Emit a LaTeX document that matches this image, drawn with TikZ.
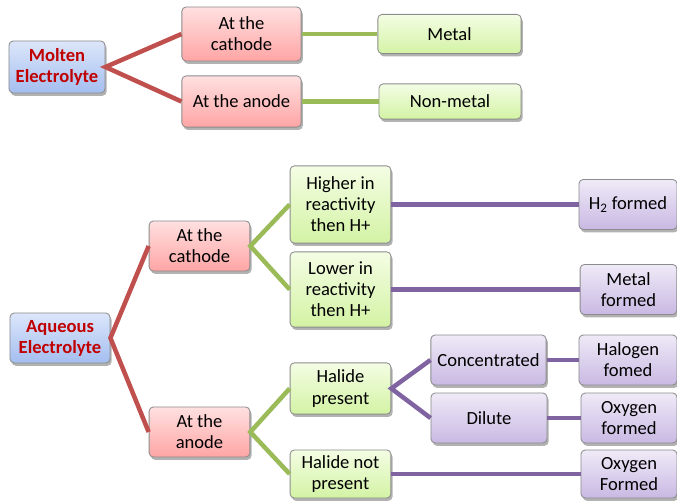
\documentclass[tikz,border=0pt]{standalone}
\usepackage{fontspec}
\setmainfont{Carlito}
\usepackage{tikz}
\usetikzlibrary{shadows}

\definecolor{lnred}{HTML}{C0504D}
\definecolor{lngreen}{HTML}{9BBB59}
\definecolor{lnpurple}{HTML}{8064A2}
\definecolor{txtred}{HTML}{C00000}
\definecolor{bluetop}{HTML}{DCE6FA}
\definecolor{bluebot}{HTML}{A4BEF0}
\definecolor{redtop}{HTML}{FFE0E0}
\definecolor{redbot}{HTML}{FFA5A5}
\definecolor{greentop}{HTML}{F4FDE4}
\definecolor{greenbot}{HTML}{D3F3A4}
\definecolor{purpletop}{HTML}{EFEAF7}
\definecolor{purplebot}{HTML}{C9B9E3}

\tikzstyle{box} = [draw=black!45, line width=0.6pt, rounded corners=3pt, align=center,
  font=\fontsize{13.2}{15}\selectfont, inner sep=2pt,
  drop shadow={shadow xshift=1.2pt, shadow yshift=-2pt, opacity=0.3, fill=black}]
\tikzstyle{bluebox} = [box, top color=bluetop, bottom color=bluebot, font=\fontsize{13.2}{15}\selectfont\bfseries, text=txtred]
\tikzstyle{redbox} = [box, top color=redtop, bottom color=redbot]
\tikzstyle{greenbox} = [box, top color=greentop, bottom color=greenbot]
\tikzstyle{purplebox} = [box, top color=purpletop, bottom color=purplebot]
\tikzstyle{redline} = [line width=3.2pt, lnred]
\tikzstyle{greenline} = [line width=3.2pt, lngreen]
\tikzstyle{purpleline} = [line width=3.2pt, lnpurple]

\begin{document}
\begin{tikzpicture}[x=0.025cm, y=-0.025cm]
\useasboundingbox (0,0) rectangle (677,500);

% molten
\node (molten) [bluebox, minimum width=2.4cm, minimum height=1.3cm] at (57,67) {Molten\\Electrolyte};
\node (mcathode) [redbox, minimum width=2.98cm, minimum height=1.35cm] at (241.5,34) {At the\\cathode};
\node (manode) [redbox, minimum width=2.98cm, minimum height=1.28cm] at (241.5,101.5) {At the anode};
\node (metal) [greenbox, minimum width=3.58cm, minimum height=0.98cm] at (449.5,34) {Metal};
\node (nonmetal) [greenbox, minimum width=3.55cm, minimum height=0.88cm] at (450,101.5) {Non-metal};

% aqueous
\node (aqueous) [bluebox, minimum width=2.5cm, minimum height=1.25cm] at (60,338) {Aqueous\\Electrolyte};
\node (acathode) [redbox, minimum width=2.52cm, minimum height=1.25cm] at (199.5,246) {At the\\cathode};
\node (aanode) [redbox, minimum width=2.52cm, minimum height=1.25cm] at (199.5,432) {At the\\anode};
\node (higher) [greenbox, minimum width=2.52cm, minimum height=1.93cm] at (340.5,204.5) {Higher in\\reactivity\\then H+};
\node (lower) [greenbox, minimum width=2.52cm, minimum height=1.88cm] at (340.5,289.5) {Lower in\\reactivity\\then H+};
\node (halide) [greenbox, minimum width=2.52cm, minimum height=1.28cm] at (340.5,388.5) {Halide\\present};
\node (nohalide) [greenbox, minimum width=2.52cm, minimum height=1.2cm] at (340.5,474) {Halide not\\present};
\node (conc) [purplebox, minimum width=2.88cm, minimum height=1.25cm] at (488.5,360) {Concentrated};
\node (dilute) [purplebox, minimum width=2.9cm, minimum height=1.25cm] at (489,418) {Dilute};
\node (htwo) [purplebox, minimum width=2.45cm, minimum height=1.25cm] at (628,204.5) {H\textsubscript{2} formed};
\node (metalf) [purplebox, minimum width=2.42cm, minimum height=1.25cm] at (628.5,289.5) {Metal\\formed};
\node (halogen) [purplebox, minimum width=2.45cm, minimum height=1.25cm] at (628,360) {Halogen\\fomed};
\node (oxyone) [purplebox, minimum width=2.4cm, minimum height=1.25cm] at (629,418) {Oxygen\\formed};
\node (oxytwo) [purplebox, minimum width=2.4cm, minimum height=1.2cm] at (629,474) {Oxygen\\Formed};

\draw [redline] (mcathode.west) -- (molten.east) -- (manode.west);
\draw [greenline] (mcathode) -- (metal);
\draw [greenline] (manode) -- (nonmetal);

\draw [redline] (acathode.west) -- (aqueous.east) -- (aanode.west);
\draw [greenline] (higher.west) -- (acathode.east) -- (lower.west);
\draw [greenline] (halide.west) -- (aanode.east) -- (nohalide.west);
\draw [purpleline] (higher) -- (htwo);
\draw [purpleline] (lower) -- (metalf);
\draw [purpleline] (conc.west) -- (halide.east) -- (dilute.west);
\draw [purpleline] (conc) -- (halogen);
\draw [purpleline] (dilute) -- (oxyone);
\draw [purpleline] (nohalide) -- (oxytwo);

\end{tikzpicture}
\end{document}
